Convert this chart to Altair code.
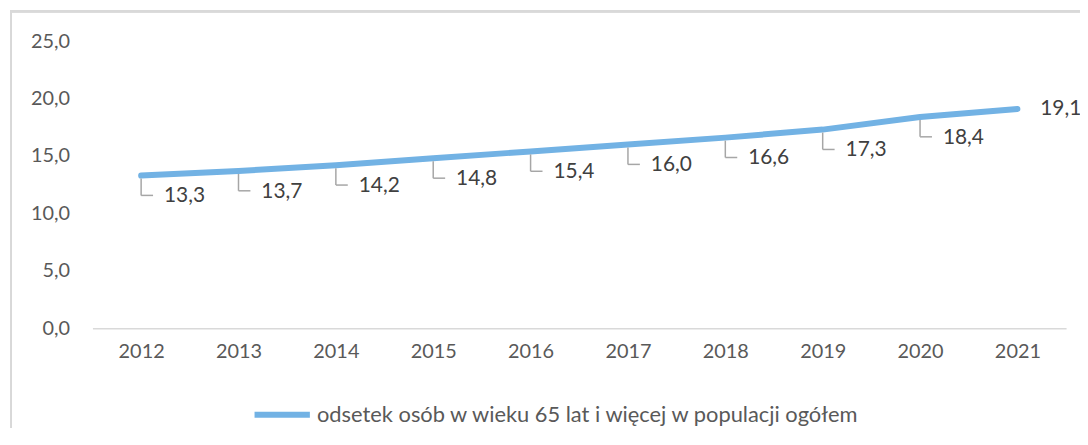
import altair as alt
import pandas as pd

years = ["2012", "2013", "2014", "2015", "2016", "2017", "2018", "2019", "2020", "2021"]
values = [13.3, 13.7, 14.2, 14.8, 15.4, 16.0, 16.6, 17.3, 18.4, 19.1]
series_name = "odsetek osób w wieku 65 lat i więcej w populacji ogółem"
y_ticks = [0, 5, 10, 15, 20, 25]

df = pd.DataFrame({"year": years, "value": values, "series": series_name})
df["label"] = [f"{v:.1f}".replace(".", ",") for v in values]
df["last"] = [y == years[-1] for y in years]

FONT = "Lato"
GRAY_TXT = "#595959"
LINE_COL = "#72b2e4"

xenc = alt.X("year:O", scale=alt.Scale(type="point", padding=0.5),
             axis=alt.Axis(title=None, labelAngle=0, ticks=False, domainColor="#d9d9d9",
                           domainWidth=1.5, labelPadding=13, labelFontSize=20,
                           labelColor=GRAY_TXT, labelFont=FONT))
yenc = alt.Y("value:Q", scale=alt.Scale(domain=[0, 25], nice=False, zero=True),
             axis=alt.Axis(title=None, values=y_ticks, grid=False, domain=False, ticks=False,
                           labelPadding=23, labelFontSize=20, labelColor=GRAY_TXT,
                           labelFont=FONT,
                           labelExpr="replace(format(datum.value, '.1f'), '.', ',')"))

base = alt.Chart(df)

border = base.mark_rect(fillOpacity=0, stroke="#d9d9d9", strokeWidth=2).encode(
    x=alt.value(-82), x2=alt.value(1200), y=alt.value(-30), y2=alt.value(600)
)

line = base.mark_line(strokeWidth=6, strokeCap="round", strokeJoin="round").encode(
    x=xenc, y=yenc,
    color=alt.Color("series:N", scale=alt.Scale(range=[LINE_COL]),
                    legend=alt.Legend(title=None, orient="none", legendX=160, legendY=345,
                                      symbolType="stroke", symbolSize=3100,
                                      symbolStrokeWidth=6, labelFontSize=22,
                                      labelFont=FONT, labelColor=GRAY_TXT, labelLimit=800,
                                      labelOffset=4))
)

leader_v = base.transform_filter("!datum.last").mark_rule(
    color="#a6a6a6", strokeWidth=1.5, yOffset=3, y2Offset=20
).encode(x="year:O", y="value:Q", y2="value:Q")

leader_h = base.transform_filter("!datum.last").mark_rule(
    color="#a6a6a6", strokeWidth=1.5, yOffset=20, x2Offset=12
).encode(x="year:O", x2="year:O", y="value:Q")

labels = base.transform_filter("!datum.last").mark_text(
    align="left", baseline="middle", dx=23, dy=21, fontSize=21, font=FONT, color="#404040"
).encode(x="year:O", y="value:Q", text="label:N")

last_label = base.transform_filter("datum.last").mark_text(
    align="left", baseline="middle", dx=23, dy=0, fontSize=21, font=FONT, color="#404040"
).encode(x="year:O", y="value:Q", text="label:N")

chart = alt.layer(border, line, leader_v, leader_h, labels, last_label).properties(
    width=980, height=289,
    background="white",
    autosize=alt.AutoSizeParams(type="none"),
    padding={"left": 85, "top": 32, "right": 14, "bottom": 99},
).configure_view(strokeWidth=0, stroke="transparent")

chart.save("out.html", embed_options={"renderer": "svg", "actions": False})
